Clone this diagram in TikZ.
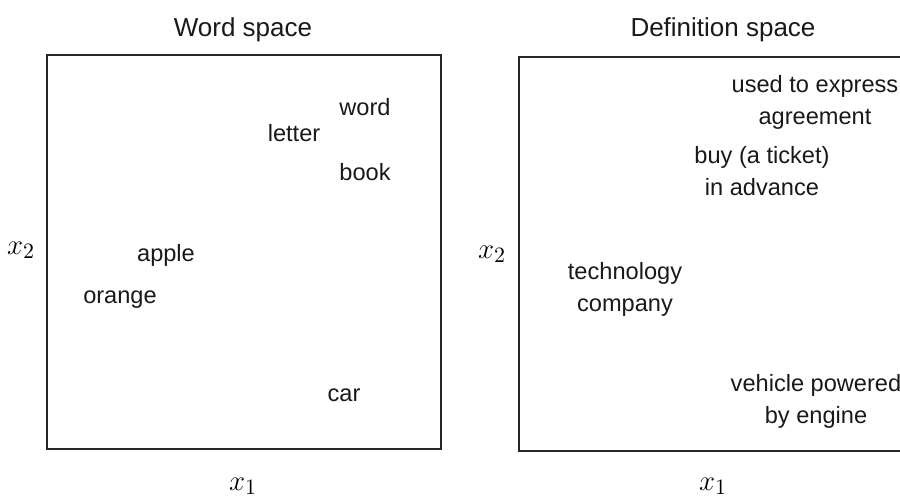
\documentclass[tikz,border=0pt]{standalone}
\usepackage{fontspec}
\setmainfont{Liberation Sans}
\usetikzlibrary{positioning}
\tikzset{
    txt/.style = {align=center, inner sep=0pt, text=black!90, font=\fontsize{11.8}{16}\selectfont},
    space_title/.style = {txt, font=\fontsize{13}{16}\selectfont},
    axis_lbl/.style = {inner sep=0pt, font=\fontsize{15.5}{18}\selectfont},
    space_box/.style = {draw=black!85, line width=0.9pt, inner sep=0pt, minimum width=197pt, minimum height=197pt}
}

\begin{document}
\begin{tikzpicture}
            [x=0.5pt, y=-0.5pt]

            \useasboundingbox (0,0) rectangle (900,497);
            \begin{scope}
            \clip (0,0) rectangle (900,497);

            % word space
            \node [space_box] (wbox) at (244,252) {};
            \node [space_title] (wtitle) at (243,30) {Word space};
            \node [axis_lbl] (wx1) at (243,486) {$x_1$};
            \node [axis_lbl] (wx2) at (21,250) {$x_2$};

            \node [txt] (word) at (365,107) {word};
            \node [txt] (letter) at (294,133) {letter};
            \node [txt] (book) at (365,172) {book};
            \node [txt] (apple) at (166,255) {apple};
            \node [txt] (orange) at (120,300) {orange};
            \node [txt] (car) at (344,395) {car};

            % definition space
            \node [space_box] (dbox) at (716,254) {};
            \node [space_title] (dtitle) at (723,30) {Definition space};
            \node [axis_lbl] (dx1) at (713,486) {$x_1$};
            \node [axis_lbl] (dx2) at (492,254) {$x_2$};

            \node [txt] (agree) at (815,102) {used to express\\agreement};
            \node [txt] (book_def) at (762,171) {buy (a ticket)\\in advance};
            \node [txt] (apple_def) at (625,289) {technology\\company};
            \node [txt] (car_def) at (816,401) {vehicle powered\\by engine};
            \end{scope}
\end{tikzpicture}
\end{document}
